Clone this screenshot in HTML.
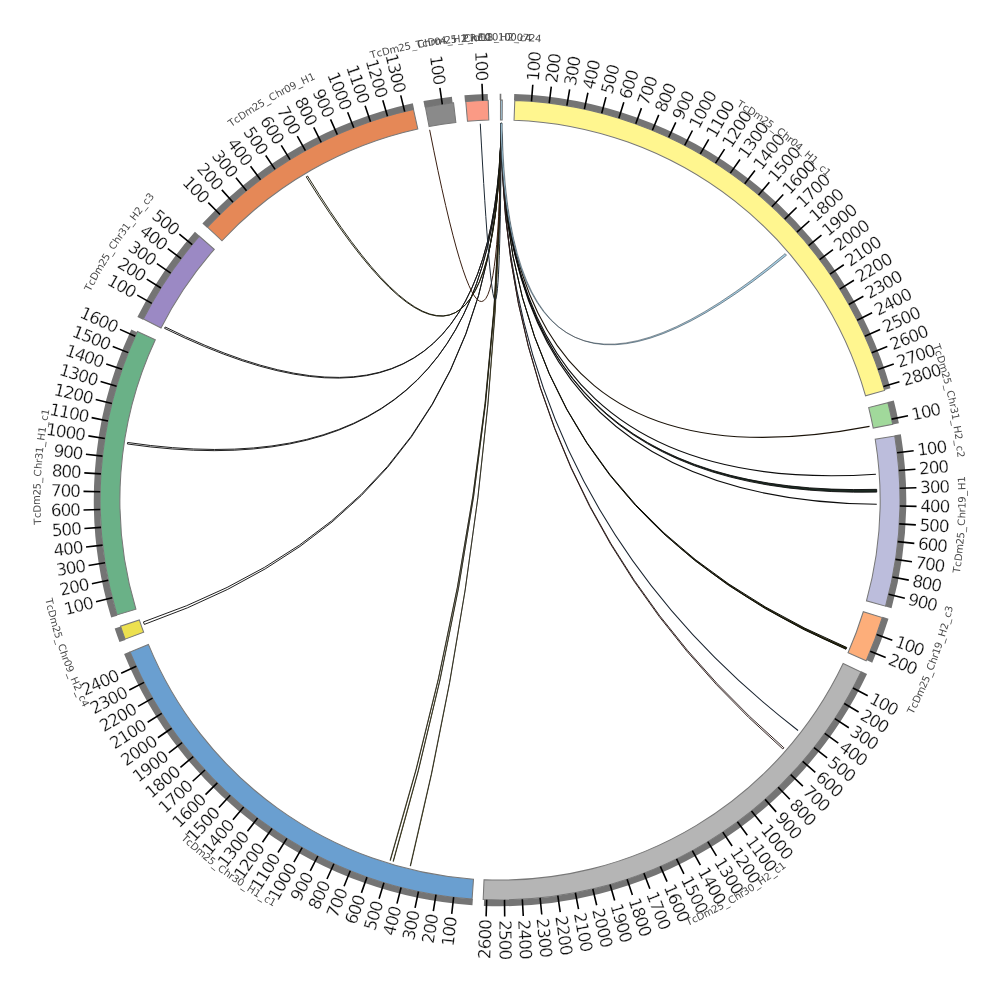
<!DOCTYPE html>
<html lang="en"><head><meta charset="utf-8"><title>Chord diagram</title>
<style>html,body{margin:0;padding:0;background:#fff}svg{display:block}</style></head>
<body>
<svg width="1000" height="1000" viewBox="0 0 1000 1000">
<rect width="1000" height="1000" fill="#ffffff"/>
<g id="links">
<path d="M501.32 123.20 Q503.03 496.32 869.53 426.36" fill="none" stroke="#1a1208" stroke-width="1.1"/>
<path d="M501.32 123.20 Q501.18 498.74 875.91 474.18" fill="none" stroke="#0c0c0c" stroke-width="1.1"/>
<path d="M501.32 123.20 Q500.53 499.45 876.65 489.35 L876.72 492.11 Q500.41 499.58 501.32 123.20 Z" fill="#1c2a22" stroke="#0c0c0c" stroke-width="0.9" stroke-linejoin="round"/>
<path d="M501.32 123.20 Q500.00 500.00 876.78 504.27" fill="none" stroke="#0c0c0c" stroke-width="1.1"/>
<path d="M501.32 123.20 Q500.00 500.00 846.74 647.47 L845.97 649.28 Q500.00 500.00 501.32 123.20 Z" fill="#26260e" stroke="#0e0e06" stroke-width="1.0" stroke-linejoin="round"/>
<path d="M501.32 123.20 Q500.00 500.00 798.05 730.53" fill="none" stroke="#18222e" stroke-width="1.05"/>
<path d="M501.32 123.20 Q500.00 500.00 783.86 747.80 L782.82 748.98 Q500.00 500.00 501.32 123.20 Z" fill="#ffffff" stroke="#2a1a18" stroke-width="0.95" stroke-linejoin="round"/>
<path d="M501.05 123.20 Q500.00 500.00 390.40 860.51 L390.02 860.39 Q500.00 500.00 501.58 123.20 Z" fill="#8f8400" stroke="#1c1b10" stroke-width="0.7" stroke-linejoin="round"/>
<path d="M501.05 123.20 Q500.00 500.00 393.42 861.41 L393.05 861.30 Q500.00 500.00 501.58 123.20 Z" fill="#8f8400" stroke="#1c1b10" stroke-width="0.7" stroke-linejoin="round"/>
<path d="M501.05 123.20 Q500.00 500.00 410.57 866.03 L410.18 865.94 Q500.00 500.00 501.58 123.20 Z" fill="#8f8400" stroke="#1c1b10" stroke-width="0.7" stroke-linejoin="round"/>
<path d="M501.32 123.20 Q500.00 500.00 144.33 624.41 L143.47 621.93 Q500.00 500.00 501.32 123.20 Z" fill="#ffffff" stroke="#141414" stroke-width="0.95" stroke-linejoin="round"/>
<path d="M501.32 123.20 Q497.73 497.35 127.39 443.98 L127.62 442.48 Q497.67 497.28 501.32 123.20 Z" fill="#ffffff" stroke="#141414" stroke-width="0.95" stroke-linejoin="round"/>
<path d="M501.32 123.20 Q494.35 490.73 164.57 328.35 L165.26 327.01 Q494.32 490.64 501.32 123.20 Z" fill="#ffffff" stroke="#141414" stroke-width="0.95" stroke-linejoin="round"/>
<path d="M501.32 123.20 Q494.55 480.20 306.22 176.85 L307.57 176.04 Q494.58 480.13 501.32 123.20 Z" fill="#ffffff" stroke="#1c1c0c" stroke-width="0.95" stroke-linejoin="round"/>
<path d="M501.32 123.20 Q497.83 476.54 429.65 129.82" fill="none" stroke="#3a1f12" stroke-width="1.0"/>
<path d="M501.32 123.20 Q499.41 476.04 480.28 123.72" fill="none" stroke="#1c2833" stroke-width="1.0"/>
<path d="M500.46 123.20 Q506.55 485.71 785.11 253.64 L786.48 255.24 Q506.61 485.77 502.17 123.21 Z" fill="#a6cee3" stroke="#2f3a44" stroke-width="0.55" stroke-linejoin="round"/>
</g>
<g id="sectors" stroke="#787878" stroke-width="1.04" stroke-linejoin="miter">
<path d="M500.49 100.10 A399.90 399.90 0 0 1 502.30 100.11 L502.19 119.91 A380.10 380.10 0 0 0 500.46 119.90 Z" fill="#a6cee3"/>
<path d="M514.79 100.37 A399.90 399.90 0 0 1 884.60 390.44 L865.56 395.87 A380.10 380.10 0 0 0 514.06 120.16 Z" fill="#fff68f"/>
<path d="M887.89 402.71 A399.90 399.90 0 0 1 892.69 424.38 L873.24 428.12 A380.10 380.10 0 0 0 868.68 407.53 Z" fill="#a1d99b"/>
<path d="M894.76 436.06 A399.90 399.90 0 0 1 885.56 606.13 L866.47 600.87 A380.10 380.10 0 0 0 875.21 439.23 Z" fill="#bcbddc"/>
<path d="M882.22 617.59 A399.90 399.90 0 0 1 866.17 660.74 L848.04 652.78 A380.10 380.10 0 0 0 863.30 611.76 Z" fill="#fdae7a"/>
<path d="M861.00 672.04 A399.90 399.90 0 0 1 483.18 899.55 L484.02 879.76 A380.10 380.10 0 0 0 843.13 663.52 Z" fill="#b5b5b5"/>
<path d="M472.10 898.93 A399.90 399.90 0 0 1 130.09 651.94 L148.40 644.42 A380.10 380.10 0 0 0 473.49 879.17 Z" fill="#6a9fd0"/>
<path d="M125.08 639.13 A399.90 399.90 0 0 1 120.52 626.16 L139.31 619.92 A380.10 380.10 0 0 0 143.65 632.24 Z" fill="#ece04f"/>
<path d="M116.97 614.92 A399.90 399.90 0 0 1 137.36 331.44 L155.32 339.78 A380.10 380.10 0 0 0 135.93 609.23 Z" fill="#6ab187"/>
<path d="M143.37 319.07 A399.90 399.90 0 0 1 199.39 236.28 L214.27 249.33 A380.10 380.10 0 0 0 161.03 328.03 Z" fill="#9b89c4"/>
<path d="M207.53 227.27 A399.90 399.90 0 0 1 413.51 109.56 L417.80 128.90 A380.10 380.10 0 0 0 222.01 240.77 Z" fill="#e58857"/>
<path d="M425.41 107.12 A399.90 399.90 0 0 1 453.55 102.81 L455.85 122.47 A380.10 380.10 0 0 0 429.10 126.57 Z" fill="#8a8a8a"/>
<path d="M465.77 101.57 A399.90 399.90 0 0 1 488.21 100.27 L488.79 120.07 A380.10 380.10 0 0 0 467.47 121.29 Z" fill="#fb9a85"/>
</g>
<path d="M499.69 96.95A403.05 403.05 0 0 1 501.29 96.95M514.11 97.20A403.05 403.05 0 0 1 887.49 389.10M890.75 401.17A403.05 403.05 0 0 1 895.78 423.78M897.74 434.77A403.05 403.05 0 0 1 888.50 607.32M885.47 617.75A403.05 403.05 0 0 1 869.34 661.37M864.19 672.67A403.05 403.05 0 0 1 483.97 902.73M472.68 902.12A403.05 403.05 0 0 1 127.01 652.72M122.41 640.98A403.05 403.05 0 0 1 117.68 627.61M114.18 616.59A403.05 403.05 0 0 1 134.13 330.91M140.20 318.36A403.05 403.05 0 0 1 197.30 233.87M204.68 225.71A403.05 403.05 0 0 1 413.49 106.34M424.04 104.17A403.05 403.05 0 0 1 452.25 99.79M464.71 98.50A403.05 403.05 0 0 1 487.83 97.13" fill="none" stroke="#747474" stroke-width="6.30"/>
<path d="M531.48 101.34L532.79 84.69M549.22 103.14L551.28 86.57M566.86 105.73L569.66 89.26M584.37 109.10L587.90 92.78M601.71 113.25L605.96 97.10M618.85 118.17L623.82 102.23M635.76 123.85L641.43 108.14M652.39 130.27L658.75 114.83M668.72 137.43L675.77 122.29M684.72 145.32L692.43 130.50M700.34 153.90L708.71 139.45M715.57 163.18L724.57 149.11M730.37 173.12L739.99 159.47M744.72 183.72L754.93 170.51M758.57 194.94L769.37 182.20M771.91 206.77L783.27 194.53M784.71 219.18L796.60 207.46M796.95 232.16L809.35 220.97M808.59 245.66L821.48 235.04M819.63 259.67L832.97 249.63M830.02 274.16L843.80 264.72M839.76 289.09L853.95 280.28M848.83 304.45L863.39 296.28M857.20 320.19L872.11 312.68M864.86 336.29L880.09 329.46M871.79 352.72L887.32 346.57M877.99 369.44L893.77 363.99M883.43 386.42L899.44 381.68M891.64 419.14L908.00 415.77M897.09 452.68L913.67 450.71M898.81 470.43L915.46 469.20M899.73 488.24L916.42 487.75M899.85 506.07L916.55 506.33M899.19 523.89L915.86 524.89M897.72 541.66L914.33 543.40M895.47 559.35L911.99 561.83M892.43 576.92L908.82 580.13M888.61 594.34L904.84 598.28M876.60 634.51L892.33 640.13M870.23 651.16L885.69 657.48M852.98 687.96L867.72 695.81M844.25 703.51L858.62 712.00M834.83 718.65L848.81 727.78M824.75 733.36L838.31 743.10M814.03 747.60L827.14 757.94M802.68 761.36L815.32 772.27M790.73 774.59L802.87 786.06M778.20 787.28L789.81 799.27M765.11 799.39L776.18 811.89M751.50 810.91L762.01 823.90M737.39 821.81L747.31 835.25M722.81 832.08L732.12 845.95M707.79 841.68L716.46 855.95M692.35 850.60L700.38 865.24M676.53 858.83L683.90 873.81M660.36 866.34L667.05 881.64M643.87 873.13L649.87 888.71M627.09 879.17L632.40 895.00M610.06 884.46L614.66 900.51M592.81 888.98L596.69 905.22M575.38 892.73L578.53 909.13M557.80 895.70L560.21 912.23M540.10 897.88L541.77 914.50M522.32 899.28L523.26 915.95M504.50 899.87L504.69 916.57M486.67 899.68L486.11 916.37M453.66 897.21L451.72 913.79M435.99 894.74L433.32 911.23M418.46 891.50L415.06 907.85M401.09 887.47L396.96 903.66M383.92 882.68L379.07 898.66M366.97 877.13L361.42 892.87M350.29 870.82L344.04 886.31M333.91 863.78L326.97 878.97M317.86 856.01L310.25 870.88M302.17 847.54L293.91 862.05M286.87 838.37L277.97 852.50M272.00 828.54L262.48 842.26M257.58 818.05L247.46 831.33M243.64 806.92L232.94 819.74M230.22 795.19L218.95 807.52M217.33 782.87L205.52 794.68M205.00 769.99L192.68 781.26M193.26 756.57L180.45 767.28M182.12 742.64L168.85 752.77M171.62 728.23L157.91 737.76M161.77 713.36L147.65 722.27M152.60 698.07L138.09 706.34M144.12 682.39L129.25 690.01M136.34 666.34L121.15 673.29M112.22 597.73L96.03 601.81M108.25 580.34L91.89 583.70M105.06 562.80L88.57 565.42M102.65 545.13L86.06 547.02M101.04 527.37L84.38 528.52M100.21 509.56L83.52 509.96M100.19 491.73L83.49 491.38M100.95 473.91L84.29 472.83M102.51 456.15L85.91 454.32M104.86 438.48L88.36 435.91M108.00 420.92L91.63 417.62M111.91 403.53L95.70 399.50M116.60 386.32L100.59 381.57M122.05 369.34L106.26 363.89M128.25 352.62L112.72 346.47M135.19 336.20L119.95 329.36M151.79 303.35L137.25 295.14M160.90 288.03L146.74 279.17M170.69 273.12L156.94 263.65M181.13 258.67L167.81 248.59M192.21 244.69L179.35 234.03M219.98 214.50L208.29 202.58M232.99 202.30L221.84 189.87M246.52 190.70L235.94 177.78M260.56 179.70L250.56 166.33M275.08 169.35L265.69 155.54M290.04 159.65L281.27 145.44M305.42 150.63L297.30 136.04M321.19 142.30L313.72 127.37M337.31 134.69L330.52 119.43M353.76 127.80L347.65 112.25M370.50 121.65L365.09 105.85M387.49 116.25L382.80 100.23M404.71 111.62L400.73 95.40M442.31 104.28L439.90 87.76M482.73 100.47L482.01 83.79" fill="none" stroke="#000000" stroke-width="1.6"/>
<g id="ticklabels" font-family="'DejaVu Sans', 'Liberation Sans', sans-serif" font-size="16.9" fill="#111111" stroke="#ffffff" stroke-width="0.25">
<text transform="translate(533.09 81.00) rotate(-85.48)" text-anchor="start" dy="0.33em" textLength="30.00" lengthAdjust="spacing">100</text>
<text transform="translate(551.73 82.90) rotate(-82.93)" text-anchor="start" dy="0.33em" textLength="30.00" lengthAdjust="spacing">200</text>
<text transform="translate(570.27 85.62) rotate(-80.38)" text-anchor="start" dy="0.33em" textLength="30.00" lengthAdjust="spacing">300</text>
<text transform="translate(588.68 89.16) rotate(-77.82)" text-anchor="start" dy="0.33em" textLength="30.00" lengthAdjust="spacing">400</text>
<text transform="translate(606.90 93.52) rotate(-75.27)" text-anchor="start" dy="0.33em" textLength="30.00" lengthAdjust="spacing">500</text>
<text transform="translate(624.92 98.69) rotate(-72.71)" text-anchor="start" dy="0.33em" textLength="30.00" lengthAdjust="spacing">600</text>
<text transform="translate(642.68 104.66) rotate(-70.16)" text-anchor="start" dy="0.33em" textLength="30.00" lengthAdjust="spacing">700</text>
<text transform="translate(660.16 111.41) rotate(-67.60)" text-anchor="start" dy="0.33em" textLength="30.00" lengthAdjust="spacing">800</text>
<text transform="translate(677.33 118.94) rotate(-65.05)" text-anchor="start" dy="0.33em" textLength="30.00" lengthAdjust="spacing">900</text>
<text transform="translate(694.14 127.22) rotate(-62.49)" text-anchor="start" dy="0.33em" textLength="40.00" lengthAdjust="spacing">1000</text>
<text transform="translate(710.56 136.25) rotate(-59.94)" text-anchor="start" dy="0.33em" textLength="40.00" lengthAdjust="spacing">1100</text>
<text transform="translate(726.57 146.00) rotate(-57.38)" text-anchor="start" dy="0.33em" textLength="40.00" lengthAdjust="spacing">1200</text>
<text transform="translate(742.12 156.45) rotate(-54.83)" text-anchor="start" dy="0.33em" textLength="40.00" lengthAdjust="spacing">1300</text>
<text transform="translate(757.20 167.58) rotate(-52.27)" text-anchor="start" dy="0.33em" textLength="40.00" lengthAdjust="spacing">1400</text>
<text transform="translate(771.76 179.38) rotate(-49.71)" text-anchor="start" dy="0.33em" textLength="40.00" lengthAdjust="spacing">1500</text>
<text transform="translate(785.78 191.81) rotate(-47.16)" text-anchor="start" dy="0.33em" textLength="40.00" lengthAdjust="spacing">1600</text>
<text transform="translate(799.24 204.86) rotate(-44.60)" text-anchor="start" dy="0.33em" textLength="40.00" lengthAdjust="spacing">1700</text>
<text transform="translate(812.10 218.49) rotate(-42.05)" text-anchor="start" dy="0.33em" textLength="40.00" lengthAdjust="spacing">1800</text>
<text transform="translate(824.34 232.68) rotate(-39.49)" text-anchor="start" dy="0.33em" textLength="40.00" lengthAdjust="spacing">1900</text>
<text transform="translate(835.93 247.41) rotate(-36.94)" text-anchor="start" dy="0.33em" textLength="40.00" lengthAdjust="spacing">2000</text>
<text transform="translate(846.86 262.64) rotate(-34.38)" text-anchor="start" dy="0.33em" textLength="40.00" lengthAdjust="spacing">2100</text>
<text transform="translate(857.09 278.33) rotate(-31.83)" text-anchor="start" dy="0.33em" textLength="40.00" lengthAdjust="spacing">2200</text>
<text transform="translate(866.62 294.47) rotate(-29.27)" text-anchor="start" dy="0.33em" textLength="40.00" lengthAdjust="spacing">2300</text>
<text transform="translate(875.42 311.02) rotate(-26.72)" text-anchor="start" dy="0.33em" textLength="40.00" lengthAdjust="spacing">2400</text>
<text transform="translate(883.47 327.94) rotate(-24.17)" text-anchor="start" dy="0.33em" textLength="40.00" lengthAdjust="spacing">2500</text>
<text transform="translate(890.76 345.21) rotate(-21.61)" text-anchor="start" dy="0.33em" textLength="40.00" lengthAdjust="spacing">2600</text>
<text transform="translate(897.27 362.78) rotate(-19.06)" text-anchor="start" dy="0.33em" textLength="40.00" lengthAdjust="spacing">2700</text>
<text transform="translate(902.99 380.63) rotate(-16.50)" text-anchor="start" dy="0.33em" textLength="40.00" lengthAdjust="spacing">2800</text>
<text transform="translate(911.62 415.02) rotate(-11.66)" text-anchor="start" dy="0.33em" textLength="30.00" lengthAdjust="spacing">100</text>
<text transform="translate(917.35 450.27) rotate(-6.80)" text-anchor="start" dy="0.33em" textLength="30.00" lengthAdjust="spacing">100</text>
<text transform="translate(919.15 468.93) rotate(-4.24)" text-anchor="start" dy="0.33em" textLength="30.00" lengthAdjust="spacing">200</text>
<text transform="translate(920.12 487.64) rotate(-1.69)" text-anchor="start" dy="0.33em" textLength="30.00" lengthAdjust="spacing">300</text>
<text transform="translate(920.25 506.38) rotate(0.87)" text-anchor="start" dy="0.33em" textLength="30.00" lengthAdjust="spacing">400</text>
<text transform="translate(919.55 525.11) rotate(3.42)" text-anchor="start" dy="0.33em" textLength="30.00" lengthAdjust="spacing">500</text>
<text transform="translate(918.01 543.79) rotate(5.98)" text-anchor="start" dy="0.33em" textLength="30.00" lengthAdjust="spacing">600</text>
<text transform="translate(915.65 562.38) rotate(8.53)" text-anchor="start" dy="0.33em" textLength="30.00" lengthAdjust="spacing">700</text>
<text transform="translate(912.45 580.84) rotate(11.09)" text-anchor="start" dy="0.33em" textLength="30.00" lengthAdjust="spacing">800</text>
<text transform="translate(908.44 599.15) rotate(13.64)" text-anchor="start" dy="0.33em" textLength="30.00" lengthAdjust="spacing">900</text>
<text transform="translate(895.81 641.37) rotate(19.66)" text-anchor="start" dy="0.33em" textLength="30.00" lengthAdjust="spacing">100</text>
<text transform="translate(889.12 658.87) rotate(22.21)" text-anchor="start" dy="0.33em" textLength="30.00" lengthAdjust="spacing">200</text>
<text transform="translate(870.98 697.55) rotate(28.04)" text-anchor="start" dy="0.33em" textLength="30.00" lengthAdjust="spacing">100</text>
<text transform="translate(861.81 713.89) rotate(30.59)" text-anchor="start" dy="0.33em" textLength="30.00" lengthAdjust="spacing">200</text>
<text transform="translate(851.91 729.80) rotate(33.15)" text-anchor="start" dy="0.33em" textLength="30.00" lengthAdjust="spacing">300</text>
<text transform="translate(841.32 745.26) rotate(35.70)" text-anchor="start" dy="0.33em" textLength="30.00" lengthAdjust="spacing">400</text>
<text transform="translate(830.05 760.23) rotate(38.25)" text-anchor="start" dy="0.33em" textLength="30.00" lengthAdjust="spacing">500</text>
<text transform="translate(818.12 774.69) rotate(40.81)" text-anchor="start" dy="0.33em" textLength="30.00" lengthAdjust="spacing">600</text>
<text transform="translate(805.56 788.60) rotate(43.37)" text-anchor="start" dy="0.33em" textLength="30.00" lengthAdjust="spacing">700</text>
<text transform="translate(792.39 801.93) rotate(45.92)" text-anchor="start" dy="0.33em" textLength="30.00" lengthAdjust="spacing">800</text>
<text transform="translate(778.64 814.66) rotate(48.47)" text-anchor="start" dy="0.33em" textLength="30.00" lengthAdjust="spacing">900</text>
<text transform="translate(764.33 826.77) rotate(51.03)" text-anchor="start" dy="0.33em" textLength="40.00" lengthAdjust="spacing">1000</text>
<text transform="translate(749.50 838.23) rotate(53.59)" text-anchor="start" dy="0.33em" textLength="40.00" lengthAdjust="spacing">1100</text>
<text transform="translate(734.18 849.02) rotate(56.14)" text-anchor="start" dy="0.33em" textLength="40.00" lengthAdjust="spacing">1200</text>
<text transform="translate(718.39 859.11) rotate(58.69)" text-anchor="start" dy="0.33em" textLength="40.00" lengthAdjust="spacing">1300</text>
<text transform="translate(702.16 868.49) rotate(61.25)" text-anchor="start" dy="0.33em" textLength="40.00" lengthAdjust="spacing">1400</text>
<text transform="translate(685.53 877.13) rotate(63.81)" text-anchor="start" dy="0.33em" textLength="40.00" lengthAdjust="spacing">1500</text>
<text transform="translate(668.54 885.03) rotate(66.36)" text-anchor="start" dy="0.33em" textLength="40.00" lengthAdjust="spacing">1600</text>
<text transform="translate(651.20 892.16) rotate(68.92)" text-anchor="start" dy="0.33em" textLength="40.00" lengthAdjust="spacing">1700</text>
<text transform="translate(633.57 898.51) rotate(71.47)" text-anchor="start" dy="0.33em" textLength="40.00" lengthAdjust="spacing">1800</text>
<text transform="translate(615.67 904.07) rotate(74.03)" text-anchor="start" dy="0.33em" textLength="40.00" lengthAdjust="spacing">1900</text>
<text transform="translate(597.55 908.82) rotate(76.58)" text-anchor="start" dy="0.33em" textLength="40.00" lengthAdjust="spacing">2000</text>
<text transform="translate(579.22 912.77) rotate(79.13)" text-anchor="start" dy="0.33em" textLength="40.00" lengthAdjust="spacing">2100</text>
<text transform="translate(560.75 915.89) rotate(81.69)" text-anchor="start" dy="0.33em" textLength="40.00" lengthAdjust="spacing">2200</text>
<text transform="translate(542.15 918.18) rotate(84.25)" text-anchor="start" dy="0.33em" textLength="40.00" lengthAdjust="spacing">2300</text>
<text transform="translate(523.46 919.64) rotate(86.80)" text-anchor="start" dy="0.33em" textLength="40.00" lengthAdjust="spacing">2400</text>
<text transform="translate(504.73 920.27) rotate(89.36)" text-anchor="start" dy="0.33em" textLength="40.00" lengthAdjust="spacing">2500</text>
<text transform="translate(486.03 918.97) rotate(-88.09)" text-anchor="end" dy="0.33em" textLength="40.00" lengthAdjust="spacing">2600</text>
<text transform="translate(451.42 916.38) rotate(-83.34)" text-anchor="end" dy="0.33em" textLength="30.00" lengthAdjust="spacing">100</text>
<text transform="translate(432.91 913.80) rotate(-80.79)" text-anchor="end" dy="0.33em" textLength="30.00" lengthAdjust="spacing">200</text>
<text transform="translate(414.53 910.39) rotate(-78.24)" text-anchor="end" dy="0.33em" textLength="30.00" lengthAdjust="spacing">300</text>
<text transform="translate(396.32 906.18) rotate(-75.68)" text-anchor="end" dy="0.33em" textLength="30.00" lengthAdjust="spacing">400</text>
<text transform="translate(378.31 901.15) rotate(-73.12)" text-anchor="end" dy="0.33em" textLength="30.00" lengthAdjust="spacing">500</text>
<text transform="translate(360.55 895.33) rotate(-70.57)" text-anchor="end" dy="0.33em" textLength="30.00" lengthAdjust="spacing">600</text>
<text transform="translate(343.07 888.72) rotate(-68.02)" text-anchor="end" dy="0.33em" textLength="30.00" lengthAdjust="spacing">700</text>
<text transform="translate(325.89 881.33) rotate(-65.46)" text-anchor="end" dy="0.33em" textLength="30.00" lengthAdjust="spacing">800</text>
<text transform="translate(309.07 873.19) rotate(-62.91)" text-anchor="end" dy="0.33em" textLength="30.00" lengthAdjust="spacing">900</text>
<text transform="translate(292.62 864.31) rotate(-60.35)" text-anchor="end" dy="0.33em" textLength="40.00" lengthAdjust="spacing">1000</text>
<text transform="translate(276.59 854.70) rotate(-57.80)" text-anchor="end" dy="0.33em" textLength="40.00" lengthAdjust="spacing">1100</text>
<text transform="translate(261.00 844.39) rotate(-55.24)" text-anchor="end" dy="0.33em" textLength="40.00" lengthAdjust="spacing">1200</text>
<text transform="translate(245.88 833.40) rotate(-52.69)" text-anchor="end" dy="0.33em" textLength="40.00" lengthAdjust="spacing">1300</text>
<text transform="translate(231.27 821.74) rotate(-50.13)" text-anchor="end" dy="0.33em" textLength="40.00" lengthAdjust="spacing">1400</text>
<text transform="translate(217.20 809.44) rotate(-47.57)" text-anchor="end" dy="0.33em" textLength="40.00" lengthAdjust="spacing">1500</text>
<text transform="translate(203.68 796.52) rotate(-45.02)" text-anchor="end" dy="0.33em" textLength="40.00" lengthAdjust="spacing">1600</text>
<text transform="translate(190.76 783.02) rotate(-42.47)" text-anchor="end" dy="0.33em" textLength="40.00" lengthAdjust="spacing">1700</text>
<text transform="translate(178.45 768.95) rotate(-39.91)" text-anchor="end" dy="0.33em" textLength="40.00" lengthAdjust="spacing">1800</text>
<text transform="translate(166.78 754.35) rotate(-37.36)" text-anchor="end" dy="0.33em" textLength="40.00" lengthAdjust="spacing">1900</text>
<text transform="translate(155.77 739.24) rotate(-34.80)" text-anchor="end" dy="0.33em" textLength="40.00" lengthAdjust="spacing">2000</text>
<text transform="translate(145.45 723.66) rotate(-32.25)" text-anchor="end" dy="0.33em" textLength="40.00" lengthAdjust="spacing">2100</text>
<text transform="translate(135.83 707.63) rotate(-29.69)" text-anchor="end" dy="0.33em" textLength="40.00" lengthAdjust="spacing">2200</text>
<text transform="translate(126.94 691.19) rotate(-27.13)" text-anchor="end" dy="0.33em" textLength="40.00" lengthAdjust="spacing">2300</text>
<text transform="translate(118.79 674.37) rotate(-24.58)" text-anchor="end" dy="0.33em" textLength="40.00" lengthAdjust="spacing">2400</text>
<text transform="translate(93.51 602.44) rotate(-14.14)" text-anchor="end" dy="0.33em" textLength="30.00" lengthAdjust="spacing">100</text>
<text transform="translate(89.35 584.22) rotate(-11.59)" text-anchor="end" dy="0.33em" textLength="30.00" lengthAdjust="spacing">200</text>
<text transform="translate(86.00 565.83) rotate(-9.03)" text-anchor="end" dy="0.33em" textLength="30.00" lengthAdjust="spacing">300</text>
<text transform="translate(83.48 547.31) rotate(-6.48)" text-anchor="end" dy="0.33em" textLength="30.00" lengthAdjust="spacing">400</text>
<text transform="translate(81.78 528.69) rotate(-3.93)" text-anchor="end" dy="0.33em" textLength="30.00" lengthAdjust="spacing">500</text>
<text transform="translate(80.92 510.02) rotate(-1.37)" text-anchor="end" dy="0.33em" textLength="30.00" lengthAdjust="spacing">600</text>
<text transform="translate(80.89 491.33) rotate(1.19)" text-anchor="end" dy="0.33em" textLength="30.00" lengthAdjust="spacing">700</text>
<text transform="translate(81.69 472.66) rotate(3.74)" text-anchor="end" dy="0.33em" textLength="30.00" lengthAdjust="spacing">800</text>
<text transform="translate(83.33 454.04) rotate(6.30)" text-anchor="end" dy="0.33em" textLength="30.00" lengthAdjust="spacing">900</text>
<text transform="translate(85.79 435.51) rotate(8.85)" text-anchor="end" dy="0.33em" textLength="40.00" lengthAdjust="spacing">1000</text>
<text transform="translate(89.08 417.11) rotate(11.41)" text-anchor="end" dy="0.33em" textLength="40.00" lengthAdjust="spacing">1100</text>
<text transform="translate(93.18 398.87) rotate(13.96)" text-anchor="end" dy="0.33em" textLength="40.00" lengthAdjust="spacing">1200</text>
<text transform="translate(98.09 380.84) rotate(16.51)" text-anchor="end" dy="0.33em" textLength="40.00" lengthAdjust="spacing">1300</text>
<text transform="translate(103.81 363.04) rotate(19.07)" text-anchor="end" dy="0.33em" textLength="40.00" lengthAdjust="spacing">1400</text>
<text transform="translate(110.31 345.51) rotate(21.62)" text-anchor="end" dy="0.33em" textLength="40.00" lengthAdjust="spacing">1500</text>
<text transform="translate(117.58 328.29) rotate(24.18)" text-anchor="end" dy="0.33em" textLength="40.00" lengthAdjust="spacing">1600</text>
<text transform="translate(134.98 293.86) rotate(29.45)" text-anchor="end" dy="0.33em" textLength="30.00" lengthAdjust="spacing">100</text>
<text transform="translate(144.54 277.80) rotate(32.01)" text-anchor="end" dy="0.33em" textLength="30.00" lengthAdjust="spacing">200</text>
<text transform="translate(154.80 262.17) rotate(34.56)" text-anchor="end" dy="0.33em" textLength="30.00" lengthAdjust="spacing">300</text>
<text transform="translate(165.74 247.02) rotate(37.12)" text-anchor="end" dy="0.33em" textLength="30.00" lengthAdjust="spacing">400</text>
<text transform="translate(177.35 232.37) rotate(39.67)" text-anchor="end" dy="0.33em" textLength="30.00" lengthAdjust="spacing">500</text>
<text transform="translate(206.47 200.72) rotate(45.56)" text-anchor="end" dy="0.33em" textLength="30.00" lengthAdjust="spacing">100</text>
<text transform="translate(220.10 187.94) rotate(48.11)" text-anchor="end" dy="0.33em" textLength="30.00" lengthAdjust="spacing">200</text>
<text transform="translate(234.29 175.77) rotate(50.67)" text-anchor="end" dy="0.33em" textLength="30.00" lengthAdjust="spacing">300</text>
<text transform="translate(249.01 164.25) rotate(53.22)" text-anchor="end" dy="0.33em" textLength="30.00" lengthAdjust="spacing">400</text>
<text transform="translate(264.22 153.39) rotate(55.77)" text-anchor="end" dy="0.33em" textLength="30.00" lengthAdjust="spacing">500</text>
<text transform="translate(279.91 143.22) rotate(58.33)" text-anchor="end" dy="0.33em" textLength="30.00" lengthAdjust="spacing">600</text>
<text transform="translate(296.03 133.77) rotate(60.88)" text-anchor="end" dy="0.33em" textLength="30.00" lengthAdjust="spacing">700</text>
<text transform="translate(312.56 125.04) rotate(63.44)" text-anchor="end" dy="0.33em" textLength="30.00" lengthAdjust="spacing">800</text>
<text transform="translate(329.46 117.06) rotate(66.00)" text-anchor="end" dy="0.33em" textLength="30.00" lengthAdjust="spacing">900</text>
<text transform="translate(346.70 109.84) rotate(68.55)" text-anchor="end" dy="0.33em" textLength="40.00" lengthAdjust="spacing">1000</text>
<text transform="translate(364.25 103.39) rotate(71.11)" text-anchor="end" dy="0.33em" textLength="40.00" lengthAdjust="spacing">1100</text>
<text transform="translate(382.06 97.73) rotate(73.66)" text-anchor="end" dy="0.33em" textLength="40.00" lengthAdjust="spacing">1200</text>
<text transform="translate(400.11 92.87) rotate(76.21)" text-anchor="end" dy="0.33em" textLength="40.00" lengthAdjust="spacing">1300</text>
<text transform="translate(439.52 85.19) rotate(81.70)" text-anchor="end" dy="0.33em" textLength="30.00" lengthAdjust="spacing">100</text>
<text transform="translate(481.90 81.19) rotate(87.52)" text-anchor="end" dy="0.33em" textLength="30.00" lengthAdjust="spacing">100</text>
</g>
<g id="seclabels" font-family="'DejaVu Sans', 'Liberation Sans', sans-serif" font-size="10.1" fill="#4a4a4a" text-anchor="start">
<text x="462.82 469.98 477.90 484.61 491.95 498.07 504.19 510.30 516.42 522.53 528.64 534.74" y="42.00 41.47 41.02 40.74 40.56 40.49 40.51 40.60 40.78 41.04 41.38 41.80" rotate="355.74 356.69 357.61 358.52 359.40 0.16 0.92 1.69 2.45 3.21 3.97 4.74">PRFC01000724</text>
<text x="736.25 741.73 746.49 752.81 760.56 765.57 771.09 775.94 781.79 786.51 789.44 794.17 799.36 803.71 809.38 814.38 818.41 822.26" y="105.87 109.21 112.19 116.27 121.50 125.00 128.98 132.57 137.03 140.76 143.10 146.99 151.39 155.16 160.24 164.87 168.69 172.44" rotate="31.32 32.09 32.92 33.99 34.94 35.71 36.47 37.35 38.22 38.83 39.44 40.21 40.97 41.84 42.72 43.48 44.21 44.93">TcDm25_Chr04_H1_c1</text>
<text x="932.72 934.84 936.63 938.92 941.58 943.24 944.98 946.45 948.13 949.42 950.19 951.38 952.60 953.57 954.72 955.65 956.33 956.94" y="345.40 351.46 356.78 363.94 372.90 378.79 385.37 391.22 398.38 404.26 407.93 413.93 420.63 426.30 433.83 440.57 446.09 451.43" rotate="70.72 71.49 72.32 73.39 74.34 75.11 75.87 76.75 77.62 78.23 78.84 79.61 80.37 81.24 82.12 82.88 83.61 84.33">TcDm25_Chr31_H2_c2</text>
<text x="959.68 960.64 961.43 962.37 963.35 963.90 964.41 964.79 965.14 965.34 965.43 965.50 965.49 965.41 965.18" y="573.47 567.13 561.57 554.11 544.81 538.72 531.93 525.92 518.57 512.56 508.80 502.69 495.88 490.12 482.51" rotate="278.70 277.95 277.12 276.07 275.13 274.38 273.62 272.76 271.89 271.29 270.69 269.94 269.18 268.32 267.45">TcDm25_Chr19_H1</text>
<text x="913.00 915.92 918.41 921.66 925.53 927.97 930.60 932.86 935.51 937.59 938.86 940.87 943.00 944.74 946.93 948.78 950.23 951.56" y="714.79 709.07 704.05 697.26 688.75 683.14 676.87 671.28 664.41 658.77 655.24 649.46 643.00 637.51 630.21 623.66 618.30 613.09" rotate="297.10 296.35 295.52 294.47 293.53 292.77 292.02 291.15 290.29 289.69 289.08 288.33 287.58 286.71 285.85 285.09 284.38 283.67">TcDm25_Chr19_H2_c3</text>
<text x="687.69 693.54 698.63 705.41 713.75 719.17 725.15 730.41 736.77 741.93 745.13 750.31 756.02 760.81 767.08 772.63 777.11 781.41" y="926.00 923.37 921.01 917.76 913.53 910.69 907.44 904.49 900.80 897.70 895.74 892.49 888.78 885.59 881.27 877.32 874.04 870.82" rotate="335.84 335.09 334.26 333.21 332.27 331.52 330.76 329.90 329.03 328.43 327.83 327.08 326.32 325.46 324.59 323.84 323.12 322.41">TcDm25_Chr30_H2_c1</text>
<text x="180.67 185.37 189.52 195.16 202.30 207.03 212.35 217.11 222.99 227.85 230.90 235.92 241.55 246.35 252.78 258.57 263.34 267.98" y="838.72 843.08 846.86 851.84 857.87 861.76 866.00 869.70 874.12 877.66 879.85 883.35 887.17 890.34 894.44 898.01 900.86 903.57" rotate="42.93 42.18 41.35 40.30 39.36 38.61 37.85 36.99 36.12 35.52 34.92 34.17 33.41 32.55 31.68 30.93 30.21 29.50">TcDm25_Chr30_H1_c1</text>
<text x="45.17 46.58 47.88 49.72 52.20 53.91 55.90 57.74 60.10 62.11 63.39 65.55 68.04 70.21 73.20 75.97 78.29 80.59" y="599.15 605.41 610.87 618.16 627.17 633.05 639.55 645.30 652.27 657.93 661.46 667.19 673.52 678.85 685.86 692.08 697.12 701.98" rotate="77.32 76.57 75.74 74.69 73.75 73.00 72.24 71.38 70.51 69.91 69.31 68.56 67.80 66.94 66.07 65.32 64.60 63.89">TcDm25_Chr09_H2_c4</text>
<text x="41.14 40.85 40.65 40.50 40.51 40.61 40.82 41.08 41.51 41.96 42.27 42.85 43.59 44.29 45.33 46.37 47.29 48.24" y="524.49 518.08 512.47 504.95 495.60 489.49 482.68 476.66 469.32 463.32 459.58 453.49 446.72 441.00 433.46 426.74 421.25 415.97" rotate="267.33 268.09 268.93 270.00 270.95 271.71 272.47 273.35 274.23 274.84 275.45 276.21 276.97 277.85 278.73 279.49 280.21 280.94">TcDm25_Chr31_H1_c1</text>
<text x="90.25 93.19 95.82 99.45 104.13 107.27 110.85 114.08 118.13 121.51 123.64 127.19 131.21 134.67 139.34 143.60 147.13 150.60" y="292.03 286.33 281.37 274.78 266.69 261.44 255.65 250.56 244.42 239.44 236.36 231.37 225.88 221.28 215.26 209.95 205.66 201.56" rotate="297.29 298.06 298.89 299.96 300.91 301.68 302.44 303.32 304.19 304.80 305.41 306.18 306.94 307.81 308.69 309.45 310.18 310.90">TcDm25_Chr31_H2_c3</text>
<text x="231.15 236.38 240.99 247.23 255.10 260.29 266.13 271.34 277.75 283.03 286.35 291.78 297.87 303.06 309.97" y="127.35 123.63 120.44 116.24 111.19 107.96 104.46 101.42 97.81 94.94 93.18 90.37 87.34 84.83 81.62" rotate="324.58 325.34 326.18 327.24 328.19 328.96 329.72 330.60 331.47 332.08 332.69 333.46 334.22 335.10 335.97">TcDm25_Chr09_H1</text>
<text x="371.33 377.50 382.92 390.20 399.31 405.28 411.95 417.88 425.13 431.07 434.78 440.84 447.60 453.32 460.91 467.69 473.24 478.60 484.71" y="58.87 57.12 55.65 53.78 51.66 50.36 49.01 47.88 46.63 45.70 45.14 44.31 43.49 42.86 42.15 41.63 41.27 40.99 40.74" rotate="344.12 344.88 345.72 346.79 347.74 348.51 349.27 350.14 351.02 351.63 352.24 353.00 353.77 354.64 355.52 356.28 357.01 357.73 358.49">TcDm25_Chr04_H2_c10</text>
<text x="416.50 422.82 428.35 435.79 445.06 451.14 457.91 463.92 471.26 477.26 481.01 487.13 493.93 499.69 507.30 514.11 519.66 525.03" y="48.14 47.02 46.10 44.98 43.78 43.09 42.42 41.91 41.39 41.06 40.88 40.67 40.53 40.48 40.55 40.71 40.91 41.17" rotate="349.91 350.68 351.51 352.58 353.53 354.30 355.06 355.94 356.81 357.42 358.03 358.80 359.56 0.43 1.31 2.07 2.80 3.52">TcDm25_Chr18_H2_c4</text>
</g>
</svg>
</body></html>
